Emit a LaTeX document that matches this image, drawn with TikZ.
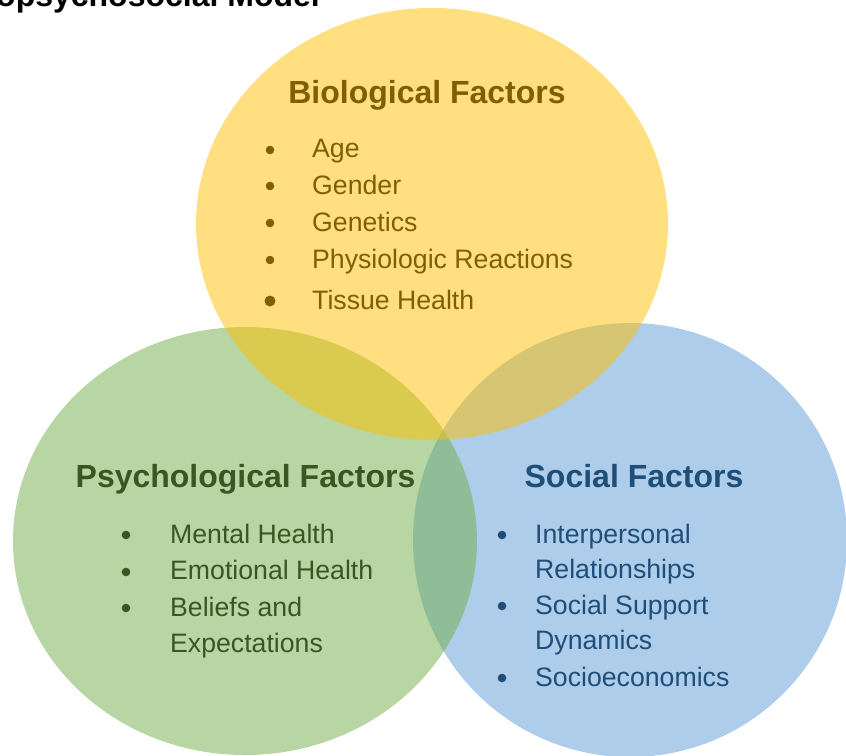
\documentclass[tikz,border=0pt]{standalone}
\usepackage{fontspec}
\setmainfont{Liberation Sans}

\definecolor{bioFill}{HTML}{FFC000}
\definecolor{psyFill}{HTML}{70AD47}
\definecolor{socFill}{HTML}{5B9BD5}
\definecolor{bioText}{HTML}{7F6000}
\definecolor{psyText}{HTML}{385723}
\definecolor{socText}{HTML}{1F4E79}

\tikzset{
  heading/.style={inner sep=0, anchor=base, font=\fontsize{32}{38}\selectfont\bfseries},
  item/.style={inner sep=0, anchor=base west, font=\fontsize{26.67}{32}\selectfont},
  dot/.style={circle, fill, inner sep=0, minimum size=8.6pt},
}

\begin{document}
\begin{tikzpicture}[x=1pt, y=-1pt]
\useasboundingbox (0,0) rectangle (846,755);
\clip (0,0) rectangle (846,755);

% Title (cut by the frame)
\node [inner sep=0, anchor=base west, font=\fontsize{32}{38}\selectfont\bfseries] (title) at (-36,6) {Biopsychosocial Model};

% Circles
\fill [socFill, fill opacity=0.5] (630,540) ellipse (217pt and 217pt);
\fill [psyFill, fill opacity=0.5] (245,541) ellipse (232pt and 214pt);
\fill [bioFill, fill opacity=0.5] (432,224) ellipse (236pt and 216pt);

% Biological
\node [heading, bioText] (bioHead) at (427,103) {Biological Factors};
\node [dot, bioText] (bioDotA) at (270,150) {};
\node [dot, bioText] (bioDotB) at (270,186) {};
\node [dot, bioText] (bioDotC) at (270,223) {};
\node [dot, bioText] (bioDotD) at (270,260) {};
\node [dot, bioText, minimum size=11pt] (bioDotE) at (270,301) {};
\node [item, bioText] (bioAge) at (312,157) {Age};
\node [item, bioText] (bioGender) at (312,194) {Gender};
\node [item, bioText] (bioGenetics) at (312,231) {Genetics};
\node [item, bioText] (bioPhysio) at (312,268) {Physiologic Reactions};
\node [item, bioText] (bioTissue) at (312,309) {Tissue Health};

% Psychological
\node [heading, psyText] (psyHead) at (245.5,487) {Psychological Factors};
\node [dot, psyText] (psyDotA) at (126,535) {};
\node [dot, psyText] (psyDotB) at (126,572) {};
\node [dot, psyText] (psyDotC) at (126,608) {};
\node [item, psyText] (psyMental) at (170,543) {Mental Health};
\node [item, psyText] (psyEmotional) at (170,579) {Emotional Health};
\node [item, psyText] (psyBeliefs) at (170,616) {Beliefs and};
\node [item, psyText] (psyExpect) at (170,652) {Expectations};

% Social
\node [heading, socText] (socHead) at (634,487) {Social Factors};
\node [dot, socText] (socDotA) at (502,535) {};
\node [dot, socText] (socDotB) at (502,606) {};
\node [dot, socText] (socDotC) at (502,678) {};
\node [item, socText] (socInter) at (535,543) {Interpersonal};
\node [item, socText] (socRel) at (535,578) {Relationships};
\node [item, socText] (socSupport) at (535,614) {Social Support};
\node [item, socText] (socDyn) at (535,649) {Dynamics};
\node [item, socText] (socEcon) at (535,686) {Socioeconomics};
\end{tikzpicture}
\end{document}
